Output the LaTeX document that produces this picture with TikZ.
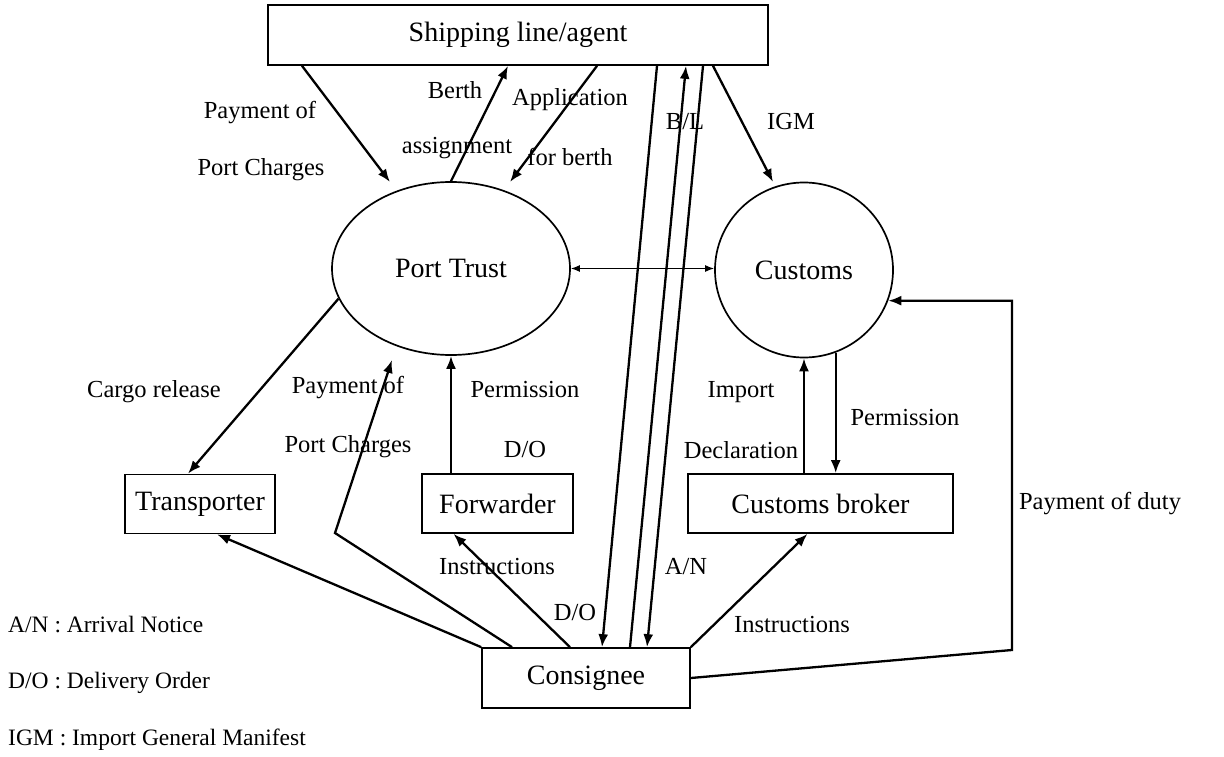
\documentclass[tikz,border=0pt]{standalone}
\usepackage{fontspec}
\setmainfont{Liberation Serif}
\usetikzlibrary{arrows.meta,shapes.geometric}

\begin{document}
\begin{tikzpicture}[x=1pt,y=-1pt,
  entity/.style={draw,line width=1.7pt,minimum height=59pt,inner sep=0pt,font=\fontsize{28}{32}\selectfont},
  agency/.style={draw,line width=1.7pt,ellipse,inner sep=0pt,font=\fontsize{28}{32}\selectfont},
  arr/.style={-{Latex[length=13pt,width=10pt]},line width=2.3pt},
  both/.style={{Latex[length=9pt,width=7pt]}-{Latex[length=9pt,width=7pt]},line width=1.4pt},
  lbl/.style={font=\fontsize{24.5}{28}\selectfont,inner sep=0pt},
  legend/.style={font=\fontsize{23.5}{27}\selectfont,anchor=west,inner sep=0pt}
]
\useasboundingbox (0,0) rectangle (1224,757);

% parties
\node[entity,minimum width=500pt,minimum height=60pt] (ship) at (518,35) {Shipping line/agent};
\node[agency,minimum width=238pt,minimum height=173pt] (port) at (451,268.5) {Port Trust};
\node[agency,minimum width=178pt,minimum height=175pt] (customs) at (804,270) {Customs};
\node[entity,minimum width=150pt] (transporter) at (200,504) {Transporter};
\node[entity,minimum width=151pt] (forwarder) at (497.5,503.5) {Forwarder};
\node[entity,minimum width=265pt] (broker) at (820.5,503.5) {Customs broker};
\node[entity,minimum width=208pt,minimum height=60pt] (consignee) at (586,678) {Consignee};

% free ends and bends
\coordinate (payTop) at (390,182);
\coordinate (appTip) at (510,182);
\coordinate (igmTip) at (773,182);
\coordinate (payBend) at (335,533);
\coordinate (payLow) at (392,360);
\coordinate (dutyBend) at (1012,650);

% flows
\draw[arr] ([xshift=-216pt]ship.south) -- (payTop);
\draw[arr] (port.north) -- ([xshift=-10pt]ship.south);
\draw[arr] ([xshift=79pt]ship.south) -- (appTip);
\draw[arr] ([xshift=139pt]ship.south) -- ([xshift=16pt]consignee.north);
\draw[arr] ([xshift=44pt]consignee.north) -- ([xshift=168pt]ship.south);
\draw[arr] ([xshift=185pt]ship.south) -- ([xshift=61pt]consignee.north);
\draw[arr] ([xshift=195pt]ship.south) -- (igmTip);
\draw[both] (port.east) -- (port.east -| customs.west);
\draw[arr] (port.195) -- ([xshift=-12pt]transporter.north);
\draw[arr] ([xshift=-74pt]consignee.north) -- (payBend) -- (payLow);
\draw[arr] (port.south |- forwarder.north) -- (port.south);
\draw[arr] (consignee.north west) -- ([xshift=17pt]transporter.south);
\draw[arr] ([xshift=-16pt]consignee.north) -- ([xshift=-44pt]forwarder.south);
\draw[arr] (consignee.north east) -- ([xshift=-13pt]broker.south);
\draw[arr] (customs.south |- broker.north) -- (customs.south);
\draw[arr] (customs.-69) -- (customs.-69 |- broker.north);
\draw[arr] (consignee.east) -- (dutyBend) -- (dutyBend |- customs.-20) -- (customs.-20);

% labels
\node[lbl] (payTopA) at (260,113) {Payment of};
\node[lbl] (payTopB) at (261,170) {Port Charges};
\node[lbl] (berthA) at (455,90) {Berth};
\node[lbl] (berthB) at (457,148) {assignment};
\node[lbl] (appA) at (570,100) {Application};
\node[lbl] (appB) at (570,157) {for berth};
\node[lbl] (bl) at (685,122) {B/L};
\node[lbl] (igm) at (791,122) {IGM};
\node[lbl] (cargo) at (154,392) {Cargo release};
\node[lbl] (payLowA) at (348,388) {Payment of};
\node[lbl] (payLowB) at (348,447) {Port Charges};
\node[lbl] (permPort) at (525,390) {Permission};
\node[lbl] (doPort) at (525,450) {D/O};
\node[lbl] (importA) at (741,392) {Import};
\node[lbl] (importB) at (741,450) {Declaration};
\node[lbl] (permCust) at (905,418) {Permission};
\node[lbl] (duty) at (1100,504) {Payment of duty};
\node[lbl] (instrFwd) at (497,567) {Instructions};
\node[lbl] (doCons) at (575,613) {D/O};
\node[lbl] (an) at (686,567) {A/N};
\node[lbl] (instrBrk) at (792,625) {Instructions};

% legend
\node[legend] (keyAN) at (8,625) {A/N : Arrival Notice};
\node[legend] (keyDO) at (8,683) {D/O : Delivery Order};
\node[legend] (keyIGM) at (8,740) {IGM : Import General Manifest};
\end{tikzpicture}
\end{document}
